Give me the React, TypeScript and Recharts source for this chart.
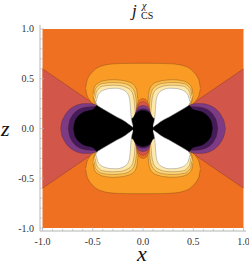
import { ComposedChart, Area, XAxis, YAxis } from "recharts"

type Pt = [number, number, number]
type Hp = [number, number]

const peanut: Pt[] = [
  [-0.57, 0.4, 0.41], [-0.56, 0.345, 0.47], [-0.54, 0.3, 0.52], [-0.51, 0.26, 0.56],
  [-0.47, 0.23, 0.6], [-0.42, 0.2, 0.625], [-0.35, 0.15, 0.643], [-0.25, 0.1, 0.652],
  [-0.1, 0.05, 0.655], [0, 0, 0.655],
]
const yellow1: Pt[] = [
  [-0.497, 0.33, 0.345], [-0.49, 0.285, 0.39], [-0.475, 0.245, 0.43], [-0.44, 0.21, 0.46],
  [-0.38, 0.17, 0.482], [-0.3, 0.13, 0.49], [-0.22, 0.09, 0.485], [-0.15, 0.05, 0.47],
  [-0.1, 0.02, 0.445], [-0.07, 0.01, 0.405], [-0.055, 0.005, 0.33], [-0.045, 0, 0.2],
]
const yellow2: Pt[] = [
  [-0.485, 0.3, 0.33], [-0.475, 0.255, 0.39], [-0.45, 0.22, 0.425], [-0.4, 0.18, 0.452],
  [-0.3, 0.13, 0.462], [-0.22, 0.09, 0.457], [-0.15, 0.05, 0.44], [-0.11, 0.025, 0.41],
  [-0.085, 0.01, 0.37], [-0.07, 0.005, 0.3], [-0.06, 0, 0.18],
]
const yellow3: Pt[] = [
  [-0.475, 0.28, 0.3], [-0.465, 0.25, 0.36], [-0.44, 0.22, 0.4], [-0.4, 0.185, 0.425],
  [-0.3, 0.13, 0.435], [-0.22, 0.09, 0.43], [-0.16, 0.055, 0.41], [-0.12, 0.03, 0.38],
  [-0.1, 0.015, 0.34], [-0.085, 0.005, 0.25], [-0.075, 0, 0.12],
]
const whiteLobe: Pt[] = [
  [-0.465, 0.255, 0.27], [-0.455, 0.235, 0.315], [-0.43, 0.215, 0.36], [-0.38, 0.185, 0.39],
  [-0.32, 0.15, 0.403], [-0.26, 0.115, 0.405], [-0.21, 0.09, 0.393], [-0.17, 0.065, 0.37],
  [-0.145, 0.045, 0.335], [-0.13, 0.035, 0.27], [-0.12, 0.028, 0.14], [-0.1, 0.012, 0.03],
]
const wedge: Pt[] = [[-1, -0.6, 0.6], [-0.13, 0, 0]]

// bands around the centre blobs, [x, half height]
const orangeArch: Hp[] = [[-0.075, 0.05], [-0.065, 0.2], [-0.045, 0.27], [-0.02, 0.295], [0, 0.3]]
const redArch: Hp[] = [[-0.075, 0.05], [-0.062, 0.18], [-0.042, 0.245], [-0.02, 0.265], [0, 0.27]]
const purpleArch: Hp[] = [[-0.09, 0.05], [-0.075, 0.15], [-0.05, 0.21], [-0.02, 0.228], [0, 0.232]]
const darkArch: Hp[] = [[-0.1, 0.05], [-0.085, 0.13], [-0.055, 0.18], [-0.025, 0.195], [0, 0.198]]

const purpleLobe: Hp[] = [
  [-0.82, 0], [-0.81, 0.06], [-0.79, 0.11], [-0.76, 0.16], [-0.72, 0.2], [-0.66, 0.235],
  [-0.59, 0.25], [-0.53, 0.25], [-0.48, 0.24], [-0.44, 0.22],
]
const darkLobe: Hp[] = [
  [-0.745, 0], [-0.735, 0.06], [-0.71, 0.12], [-0.67, 0.17], [-0.62, 0.2], [-0.56, 0.215],
  [-0.5, 0.22], [-0.45, 0.22],
]
const blackLobe: Hp[] = [
  [-0.69, 0], [-0.68, 0.06], [-0.655, 0.11], [-0.62, 0.145], [-0.575, 0.17], [-0.53, 0.18],
  [-0.49, 0.195], [-0.46, 0.23], [-0.42, 0.24], [-0.36, 0.21], [-0.3, 0.18], [-0.24, 0.15],
  [-0.18, 0.12], [-0.14, 0.1], [-0.11, 0.1], [-0.09, 0.12], [-0.07, 0.15], [-0.04, 0.172], [0, 0.18],
]

const majorTicks = [-1, -0.5, 0, 0.5, 1]
const tickLabels = ["-1.0", "-0.5", "0.0", "0.5", "1.0"]
const allTicks = [-1, -0.9, -0.8, -0.7, -0.6, -0.5, -0.4, -0.3, -0.2, -0.1, 0, 0.1, 0.2, 0.3, 0.4, 0.5, 0.6, 0.7, 0.8, 0.9, 1]

const C = {
  bg: "#ef7021",
  red: "#d3564a",
  lightOrange: "#f99b24",
  y1: "#fbbd4a",
  y2: "#fdd47a",
  y3: "#fee9ad",
  purple: "#7d3b85",
  dark: "#451b5a",
  line: "rgba(70,40,20,0.55)",
}
const serif = "Liberation Serif"

// the plot is symmetric in x and z, so each quadrant is mirrored
const rows = (pts: Pt[], sx: number, sz: number) =>
  pts
    .map(([x, lo, hi]) => ({ x: sx * x, r: sz > 0 ? [lo, hi] : [-hi, -lo] }))
    .sort((a, b) => a.x - b.x)
const wide = (pts: Pt[]): Pt[] => [
  ...pts,
  ...pts.filter((p) => p[0] < 0).reverse().map(([x, lo, hi]) => [-x, lo, hi] as Pt),
]
const sym = (pts: Hp[]): Pt[] => pts.map(([x, h]) => [x, -h, h] as Pt)
const arch = (pts: Hp[]): Pt[] => pts.map(([x, h]) => [x, 0, h] as Pt)

const quads = [[-1, 1], [1, 1], [-1, -1], [1, -1]]

type Layer = { key: string; data: { x: number; r: number[] }[]; fill: string; stroke?: string; linear?: boolean }
const layers: Layer[] = []
layers.push({ key: "bg", data: [{ x: -1, r: [-1, 1] }, { x: 1, r: [-1, 1] }], fill: C.bg, stroke: "none", linear: true })
layers.push({ key: "wl", data: rows(wedge, 1, 1), fill: C.red, linear: true })
layers.push({ key: "wr", data: rows(wedge, -1, 1), fill: C.red, linear: true })
layers.push({ key: "pt", data: rows(wide(peanut), 1, 1), fill: C.lightOrange })
layers.push({ key: "pb", data: rows(wide(peanut), 1, -1), fill: C.lightOrange })
;[
  [yellow1, C.y1],
  [yellow2, C.y2],
  [yellow3, C.y3],
].forEach(([pts, fill], i) =>
  quads.forEach(([sx, sz], j) => layers.push({ key: `y${i}${j}`, data: rows(pts as Pt[], sx, sz), fill: fill as string }))
)
;[
  [orangeArch, C.bg],
  [redArch, C.red],
  [purpleArch, C.purple],
  [darkArch, C.dark],
].forEach(([pts, fill], i) => {
  layers.push({ key: `at${i}`, data: rows(wide(arch(pts as Hp[])), 1, 1), fill: fill as string })
  layers.push({ key: `ab${i}`, data: rows(wide(arch(pts as Hp[])), 1, -1), fill: fill as string })
})
;[
  [purpleLobe, C.purple],
  [darkLobe, C.dark],
].forEach(([pts, fill], i) => {
  layers.push({ key: `ll${i}`, data: rows(sym(pts as Hp[]), 1, 1), fill: fill as string })
  layers.push({ key: `lr${i}`, data: rows(sym(pts as Hp[]), -1, 1), fill: fill as string })
})
layers.push({ key: "black", data: rows(wide(sym(blackLobe)), 1, 1), fill: "#000", stroke: "#000" })
quads.forEach(([sx, sz], j) => layers.push({ key: `w${j}`, data: rows(whiteLobe, sx, sz), fill: "#fff", stroke: "#8a8a8a" }))

const frame = "#b4b4b4"

const BottomTick = (p: any) => {
  const i = majorTicks.indexOf(p.payload.value)
  return (
    <g>
      <line x1={p.x} x2={p.x} y1={p.y} y2={p.y - (i >= 0 ? 4 : 2.2)} stroke={frame} strokeWidth={0.7} />
      {i >= 0 && (
        <text x={p.x} y={p.y + 14} textAnchor="middle" fontSize={10} fontFamily={serif} fill="#333">
          {tickLabels[i]}
        </text>
      )}
    </g>
  )
}
const TopTick = (p: any) => {
  const major = majorTicks.includes(p.payload.value)
  return <line x1={p.x} x2={p.x} y1={p.y} y2={p.y + (major ? 4 : 2.2)} stroke={frame} strokeWidth={0.7} />
}
const LeftTick = (p: any) => {
  const i = majorTicks.indexOf(p.payload.value)
  return (
    <g>
      <line x1={p.x} x2={p.x + (i >= 0 ? 4 : 2.2)} y1={p.y} y2={p.y} stroke={frame} strokeWidth={0.7} />
      {i >= 0 && (
        <text x={p.x - 6} y={p.y + 3.5} textAnchor="end" fontSize={10} fontFamily={serif} fill="#333">
          {tickLabels[i]}
        </text>
      )}
    </g>
  )
}
const RightTick = (p: any) => {
  const major = majorTicks.includes(p.payload.value)
  return <line x1={p.x} x2={p.x - (major ? 4 : 2.2)} y1={p.y} y2={p.y} stroke={frame} strokeWidth={0.7} />
}

const abs = (left: number, top: number, size: number, italic: boolean) => ({
  position: "absolute" as const,
  left,
  top,
  fontSize: size,
  lineHeight: `${Math.round(size * 0.7)}px`,
  fontStyle: italic ? "italic" : "normal",
  fontFamily: serif,
  whiteSpace: "nowrap" as const,
})

export default function App() {
  return (
    <div style={{ position: "fixed", left: 0, top: 0, width: 249, height: 266, background: "#fff", fontFamily: serif, color: "#111" }}>
      <ComposedChart width={249} height={266} margin={{ top: 25, right: 3, bottom: 0, left: 0 }}>
        {layers.map((l) => (
          <Area
            key={l.key}
            data={l.data}
            dataKey="r"
            type={l.linear ? "linear" : "monotone"}
            fill={l.fill}
            fillOpacity={1}
            stroke={l.stroke ?? C.line}
            strokeWidth={0.5}
            dot={false}
            activeDot={false}
            isAnimationActive={false}
          />
        ))}
        <XAxis
          type="number"
          dataKey="x"
          domain={[-1.025, 1.025]}
          allowDataOverflow
          ticks={allTicks}
          interval={0}
          height={35}
          tickSize={0}
          tickMargin={0}
          tick={BottomTick}
          axisLine={{ stroke: frame }}
        />
        <XAxis
          xAxisId="t"
          orientation="top"
          type="number"
          dataKey="x"
          domain={[-1.025, 1.025]}
          allowDataOverflow
          ticks={allTicks}
          interval={0}
          height={0}
          tickSize={0}
          tickMargin={0}
          tick={TopTick}
          axisLine={{ stroke: frame }}
        />
        <YAxis
          type="number"
          domain={[-1.03, 1.04]}
          allowDataOverflow
          ticks={allTicks}
          interval={0}
          width={40}
          tickSize={0}
          tickMargin={0}
          tick={LeftTick}
          axisLine={{ stroke: frame }}
        />
        <YAxis
          yAxisId="r"
          orientation="right"
          type="number"
          domain={[-1.03, 1.04]}
          allowDataOverflow
          ticks={allTicks}
          interval={0}
          width={0}
          tickSize={0}
          tickMargin={0}
          tick={RightTick}
          axisLine={{ stroke: frame }}
        />
      </ComposedChart>
      <span style={abs(132, 5, 17, true)}>j</span>
      <span style={abs(142, 2, 10, true)}>χ</span>
      <span style={abs(141, 12, 10, false)}>CS</span>
      <span style={abs(1, 121, 22, true)}>z</span>
      <span style={abs(137, 246, 22, true)}>x</span>
    </div>
  )
}
